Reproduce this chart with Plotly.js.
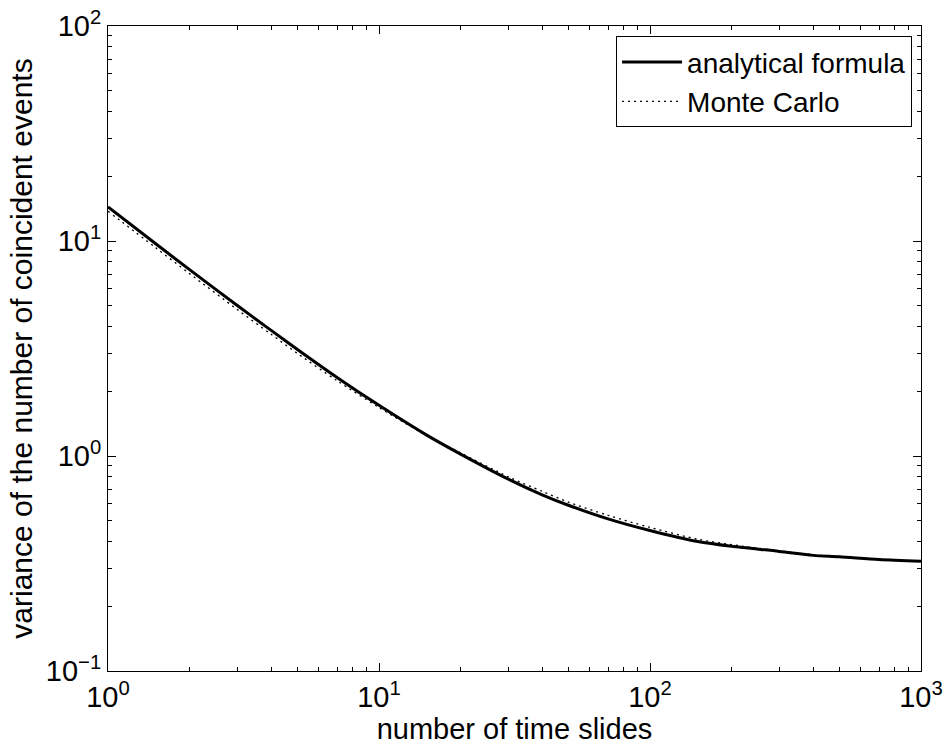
<!DOCTYPE html>
<html>
<head>
<meta charset="utf-8">
<script src="https://cdn.plot.ly/plotly-3.0.1.min.js"></script>
<style>html,body{margin:0;padding:0;background:#fff;}</style>
</head>
<body>
<div id="chart" style="width:944px;height:749px;"></div>
<script>
// number of time slides
var slides = [1, 1.5, 2, 3, 4, 5, 7, 10, 15, 20, 30, 40, 50, 70, 100, 150, 200, 300, 400, 500, 700, 1000];
// analytical formula
var analytical = [14.4, 9.71, 7.36, 5.01, 3.84, 3.13, 2.32, 1.72, 1.25, 1.02, 0.78, 0.66, 0.59, 0.51, 0.45, 0.40, 0.38, 0.36, 0.345, 0.34, 0.33, 0.324];
// Monte Carlo
var monteCarlo = [13.75, 9.3, 7.05, 4.8, 3.68, 3.0, 2.24, 1.68, 1.245, 1.035, 0.80, 0.685, 0.61, 0.53, 0.465, 0.41, 0.387, 0.362, 0.347, 0.341, 0.331, 0.323];

var xTickVals = [1, 10, 100, 1000];
var xTickText = ['10<sup>0</sup>', '10<sup>1</sup>', '10<sup>2</sup>', '10<sup>3</sup>'];
var yTickVals = [0.1, 1, 10, 100];
var yTickText = ['10<sup>\u22121</sup>', '10<sup>0</sup>', '10<sup>1</sup>', '10<sup>2</sup>'];

function minorVals(lo, hi) {
  var out = [];
  for (var e = lo; e < hi; e++) {
    for (var d = 2; d <= 9; d++) out.push(d * Math.pow(10, e));
  }
  return out;
}

var font = 'Arial, "Liberation Sans", sans-serif';

var traces = [
  {x: slides, y: analytical, mode: 'lines', name: 'analytical formula',
   line: {color: '#000', width: 3, shape: 'spline', smoothing: 0.8}},
  {x: slides, y: monteCarlo, mode: 'lines', name: 'Monte Carlo',
   line: {color: '#000', width: 1.3, dash: '2px,4px', shape: 'spline', smoothing: 0.8}}
];

var axisCommon = {
  type: 'log',
  showgrid: false,
  zeroline: false,
  showline: true,
  linecolor: '#000',
  linewidth: 1,
  mirror: 'allticks',
  ticks: 'inside',
  ticklen: 8,
  tickwidth: 1,
  tickcolor: '#000',
  tickmode: 'array',
  tickfont: {family: font, size: 29, color: '#000'}
};

var layout = {
  width: 944, height: 749,
  margin: {l: 108, r: 23, t: 26, b: 78},
  paper_bgcolor: '#fff', plot_bgcolor: '#fff',
  font: {family: font, color: '#000'},
  showlegend: true,
  legend: {
    x: 0.989, y: 0.984, xanchor: 'right', yanchor: 'top',
    bordercolor: '#000', borderwidth: 1, bgcolor: '#fff',
    font: {family: font, size: 28, color: '#000'},
    itemwidth: 60,
    tracegroupgap: 0
  },
  xaxis: Object.assign({}, axisCommon, {
    range: [0, 3],
    tickvals: xTickVals, ticktext: xTickText,
    minor: {ticks: 'inside', ticklen: 4, tickcolor: '#000', tickwidth: 1, tickmode: 'array', tickvals: minorVals(0, 3)},
    title: {text: 'number of time slides', font: {family: font, size: 29, color: '#000'}, standoff: 0}
  }),
  yaxis: Object.assign({}, axisCommon, {
    range: [-1, 2],
    tickvals: yTickVals, ticktext: yTickText,
    minor: {ticks: 'inside', ticklen: 4, tickcolor: '#000', tickwidth: 1, tickmode: 'array', tickvals: minorVals(-1, 2)},
    title: {text: 'variance of the number of coincident events', font: {family: font, size: 30, color: '#000'}, standoff: 4}
  })
};

Plotly.newPlot('chart', traces, layout, {displayModeBar: false, staticPlot: true});
</script>
</body>
</html>
